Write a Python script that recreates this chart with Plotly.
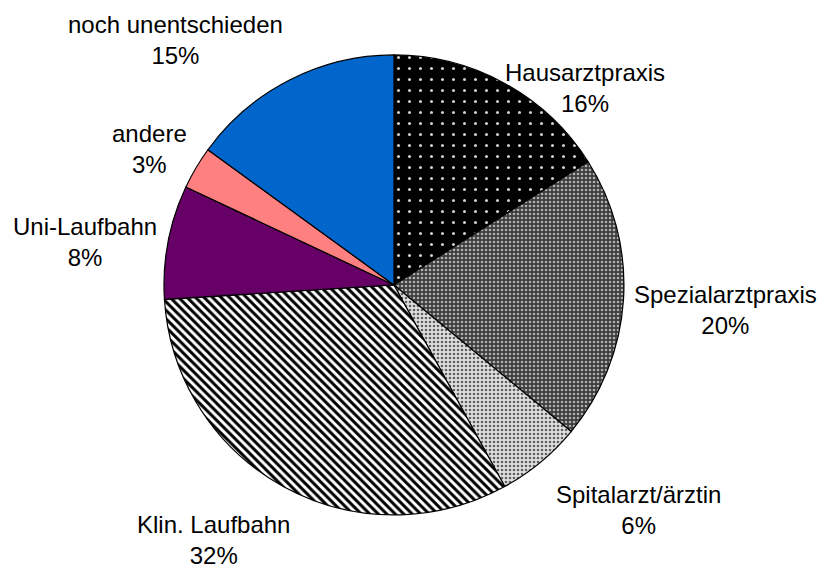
import plotly.graph_objects as go

categories = ["Hausarztpraxis", "Spezialarztpraxis", "Spitalarzt/ärztin", "Klin. Laufbahn",
              "Uni-Laufbahn", "andere", "noch unentschieden"]
values = [16, 20, 6, 32, 8, 3, 15]

bg_colors = ["#000000", "#3c3c3c", "#e0e0e0", "#ffffff", "#660066", "#ff8080", "#0066cc"]
fg_colors = ["#d0d0d0", "#b0b0b0", "#606060", "#000000", "#660066", "#ff8080", "#0066cc"]
shapes = [".", ".", ".", "\\", "", "", ""]
sizes = [11, 4, 4, 6, 8, 8, 8]
solidities = [0.06, 0.35, 0.35, 0.5, 0.3, 0.3, 0.3]

# label placement (pixel centres of each label block in the window, layout only)
label_px = [(585, 88), (725, 310), (638, 510), (213, 540), (85, 242), (149, 149), (175, 40)]
PAGE_OFFSET = 8  # default body margin of the html page

W, H = 828, 572
fig = go.Figure(go.Pie(
    labels=categories,
    values=values,
    sort=False,
    direction="clockwise",
    rotation=0,
    textinfo="none",
    marker=dict(
        colors=bg_colors,
        line=dict(color="#000000", width=1.2),
        pattern=dict(shape=shapes, bgcolor=bg_colors, fgcolor=fg_colors,
                     size=sizes, solidity=solidities, fillmode="replace"),
    ),
    domain=dict(x=[0.1884, 0.7439], y=[0.1137, 0.918]),
    showlegend=False,
    hoverinfo="label+percent",
))

total = sum(values)
for cat, val, (px, py) in zip(categories, values, label_px):
    fig.add_annotation(
        x=(px - PAGE_OFFSET) / W, y=1 - (py - PAGE_OFFSET) / H, xref="paper", yref="paper",
        xanchor="center", yanchor="middle", align="center",
        text=f"{cat}<br>{round(100 * val / total)}%",
        showarrow=False,
        font=dict(family="Liberation Sans, Arial, sans-serif", size=24, color="#000000"),
    )

fig.update_layout(
    width=W, height=H,
    margin=dict(l=0, r=0, t=0, b=0),
    paper_bgcolor="#ffffff",
    plot_bgcolor="#ffffff",
)

fig.write_html("out.html")
